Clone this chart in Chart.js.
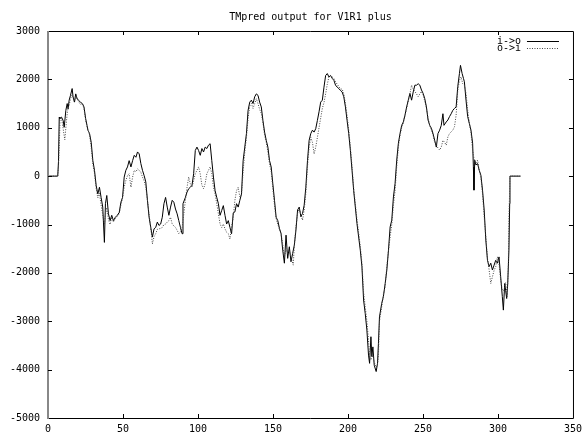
<!DOCTYPE html>
<html>
<head>
<meta charset="utf-8">
<script src="https://cdn.jsdelivr.net/npm/chart.js@4"></script>
<style>
  body { margin: 0; background: #fff; }
  #wrap { width: 587px; height: 435px; }
</style>
</head>
<body>
<div id="wrap"><canvas id="tmChart"></canvas></div>
<script>
// TMpred profile (position, score)
const chartTitle = 'TMpred output for V1R1 plus';
const seriesNames = ['i->o', 'o->i'];
const xTicks = [0, 50, 100, 150, 200, 250, 300, 350];
const yTicks = [-5000, -4000, -3000, -2000, -1000, 0, 1000, 2000, 3000];

const ioPositions = [0, 6.5, 7, 7.5, 7.9, 9, 10.1, 10.8, 11.9, 12.8, 13.4, 14.1, 15, 16.1, 16.7, 17.6, 18.5, 19.4, 20.3, 21.6, 22.9, 24, 25.1, 26, 26.6, 27.7, 28.8, 29.9, 31, 32.1, 33.2, 34.3, 35.4, 36.5, 37.6, 38.3, 39.2, 40.3, 41.4, 42.5, 43.6, 44.9, 46.2, 47.5, 48.6, 49.7, 50.8, 51.9, 53, 54.1, 55.3, 56.4, 57.5, 58.6, 59.7, 60.8, 61.9, 63, 64.1, 65.2, 66.3, 67.4, 68.5, 69.6, 70.7, 71.8, 72.9, 74, 75.1, 76.2, 77.3, 78.4, 79.5, 80.6, 81.7, 82.8, 83.9, 85, 86.1, 87.2, 88.3, 89.4, 90, 91.6, 92.7, 93.8, 94.9, 96, 97.1, 98.2, 99.3, 100.4, 101.5, 102.6, 103.7, 104.8, 105.9, 107, 108.1, 109.2, 110.3, 111.4, 112.5, 113.6, 114.7, 115.8, 116.9, 118, 119.1, 120.2, 121.3, 122.4, 123.5, 124.6, 125.7, 126.8, 127.9, 129, 130.1, 131.2, 132.3, 133.4, 134.5, 135.6, 136.7, 137.8, 138.9, 140, 141.1, 142.2, 143.3, 144.4, 145.5, 146.6, 147.7, 148.8, 149.9, 151, 152.1, 153.2, 154.3, 155.4, 156.5, 157.6, 158.7, 159.8, 160.9, 162, 163.1, 164.2, 165.3, 166.4, 167.5, 168.6, 169.7, 170.8, 171.9, 173, 174.1, 175.2, 176.3, 177.4, 178.5, 179.6, 180.7, 181.8, 182.9, 184, 185.1, 186.2, 187.3, 188.4, 189.5, 190.6, 191.7, 192.8, 193.9, 195, 196.1, 197.2, 198.3, 199.4, 200.5, 201.6, 202.7, 203.8, 206, 208.2, 209.3, 210.4, 211.5, 212.6, 213.7, 214.4, 215.3, 215.9, 216.6, 217.5, 218.8, 219.7, 220.3, 221, 222.5, 223.6, 224.8, 225.9, 227, 228.1, 229.2, 230.3, 231.4, 232.5, 233.6, 234.7, 235.8, 236.9, 238, 239.1, 240.2, 241.3, 242.4, 243.5, 244.6, 245.7, 246.8, 247.9, 249, 250.1, 251.2, 252.3, 253.4, 254.5, 255.6, 256.7, 257.8, 258.9, 260, 261.1, 262.2, 263.3, 264, 265.5, 266.6, 267.7, 268.8, 269.9, 271, 272.1, 273.2, 274.3, 275, 276.1, 277, 277.6, 278.7, 279.8, 280.9, 282, 283.1, 283.6, 284, 284.5, 285.3, 286.4, 287.5, 288.6, 289.7, 290.8, 291.9, 293, 294.1, 295.2, 296.3, 297.4, 298.5, 299.6, 300.7, 301.8, 302.9, 303.6, 304.5, 305.1, 305.8, 306.5, 307.3, 307.8, 308, 315];
const ioValues = [0, 0, 300, 1220, 1190, 1220, 1150, 1010, 1360, 1500, 1390, 1570, 1670, 1810, 1640, 1530, 1700, 1600, 1570, 1530, 1500, 1430, 1190, 1050, 950, 880, 700, 320, 120, -190, -370, -230, -440, -640, -1370, -570, -400, -780, -920, -810, -920, -850, -810, -750, -540, -440, -20, 120, 190, 320, 190, 320, 430, 390, 500, 460, 260, 120, 10, -120, -500, -850, -1060, -1260, -1090, -1060, -950, -1020, -990, -850, -570, -440, -640, -810, -640, -500, -540, -680, -780, -920, -1060, -1190, -570, -440, -330, -260, -230, -190, 50, 530, 600, 530, 430, 570, 500, 600, 570, 640, 670, 320, -20, -300, -440, -570, -810, -710, -610, -810, -990, -920, -1060, -1190, -760, -740, -570, -640, -500, -370, 320, 600, 880, 1360, 1530, 1570, 1500, 1640, 1700, 1670, 1530, 1430, 1150, 910, 740, 600, 320, 190, -160, -500, -850, -920, -1080, -1190, -1530, -1800, -1220, -1700, -1460, -1770, -1600, -1430, -1120, -700, -640, -840, -770, -600, -230, 320, 740, 880, 950, 910, 980, 1150, 1330, 1530, 1570, 1840, 2080, 2120, 2050, 2080, 2020, 1980, 1880, 1840, 1810, 1770, 1740, 1640, 1430, 1150, 880, 530, 120, -300, -980, -1530, -1870, -2560, -2840, -3180, -3700, -3870, -3320, -3730, -3530, -3910, -4040, -3870, -3460, -2910, -2630, -2490, -2220, -1940, -1530, -1050, -910, -430, -150, 330, 680, 880, 1050, 1120, 1260, 1430, 1570, 1710, 1570, 1740, 1880, 1880, 1910, 1880, 1780, 1710, 1600, 1430, 1160, 1050, 990, 880, 740, 600, 880, 950, 1050, 1290, 1050, 1120, 1160, 1230, 1290, 1360, 1400, 1430, 1850, 2120, 2290, 2120, 2020, 1950, 1570, 1230, 1090, 950, 680, 190, -290, 330, 230, 260, 120, 20, -290, -700, -1320, -1740, -1870, -1800, -1940, -1840, -1740, -1800, -1670, -2080, -2490, -2770, -2220, -2360, -2530, -2220, -1530, -570, 0, 0];

const oiPositions = [0, 6.5, 7, 7.6, 8, 9, 10, 11.2, 12.2, 13, 14, 15, 16.1, 17, 18, 19, 20.3, 21.6, 22.9, 24, 25.1, 26.3, 27.7, 28.8, 29.9, 31, 32.1, 33.2, 34.3, 35.4, 36.5, 37.6, 38.3, 39.2, 40.3, 41.4, 42.5, 43.6, 44.9, 46.2, 47.5, 48.6, 49.7, 50.8, 51.9, 53, 54.1, 55.3, 56.4, 57.5, 58.6, 59.7, 60.8, 61.9, 63, 64.1, 65.2, 66.3, 67.4, 68.5, 69.6, 70.7, 71.8, 72.9, 74, 75.1, 76.2, 77.3, 78.4, 79.5, 80.6, 81.7, 82.8, 83.9, 85, 86.1, 87.2, 88.3, 89.4, 90.5, 91.6, 92.7, 93.8, 94.9, 96, 97.1, 98.2, 99.3, 100.4, 101.5, 102.6, 103.7, 104.8, 105.9, 107, 108.1, 109.2, 110.3, 111.4, 112.5, 113.6, 114.7, 115.8, 116.9, 118, 119.1, 120.2, 121.3, 122.4, 123.5, 124.6, 125.7, 126.8, 127.9, 129, 130.1, 131.2, 132.3, 133.4, 134.5, 135.6, 136.7, 137.8, 138.9, 140, 141.1, 142.2, 143.3, 144.4, 145.5, 146.6, 147.7, 148.8, 149.9, 151, 152.1, 153.2, 154.3, 155.4, 156.5, 157.6, 158.7, 159.8, 160.9, 162, 163.5, 164.2, 165.3, 166.4, 167.5, 168.6, 169.7, 170.8, 171.9, 173, 174.1, 175.2, 176.3, 177.4, 178.5, 179.6, 180.7, 181.8, 182.9, 184, 185.1, 186.2, 187.3, 188.4, 189.5, 190.6, 191.7, 192.8, 193.9, 195, 196.1, 197.2, 198.3, 199.4, 200.5, 201.6, 202.7, 203.8, 206, 208.2, 209.3, 210.4, 211.5, 212.6, 213.7, 214.4, 215.3, 216.6, 217.5, 218.8, 219.7, 220.3, 221, 222.5, 223.6, 224.7, 225.8, 227, 228.1, 229.2, 230.3, 231.4, 232.5, 233.6, 234.7, 235.8, 236.9, 238, 239.1, 240.2, 241.3, 242.4, 243.5, 244.6, 245.7, 246.8, 247.9, 249, 250.1, 251.2, 252.3, 253.4, 254.5, 255.6, 256.7, 257.8, 258.9, 260, 261.1, 262.2, 263.3, 264.4, 265.5, 266.6, 267.7, 269.9, 271, 272.1, 273.2, 274.3, 275.4, 276.5, 277.6, 278.7, 279.8, 280.9, 282, 283.1, 284.2, 285.3, 286.4, 287.5, 288.6, 289.7, 290.8, 291.9, 293, 294.1, 295.2, 296.3, 297.4, 298.5, 299.6, 300.7, 301.8, 302.9, 304, 305.1, 306.2, 306.9, 307.3, 307.8, 308, 315];
const oiValues = [0, 0, 200, 700, 1150, 1200, 1000, 750, 1100, 1350, 1450, 1600, 1680, 1600, 1550, 1650, 1550, 1480, 1500, 1400, 1150, 1000, 850, 600, 250, 50, -250, -450, -350, -600, -800, -1000, -800, -650, -900, -1000, -850, -950, -880, -830, -780, -600, -450, -230, -90, 10, 50, -230, -20, 120, 90, 150, 120, 80, -20, -100, -230, -500, -800, -1060, -1400, -1250, -1190, -1100, -1090, -1080, -1060, -1000, -990, -950, -920, -850, -990, -1030, -1060, -1120, -1190, -1150, -1060, -800, -500, -230, -20, -160, -230, -90, 50, 120, 190, 50, -190, -260, -150, 50, 120, 190, 50, -230, -370, -570, -780, -990, -1060, -990, -1090, -1160, -1190, -1300, -1050, -850, -500, -300, -230, -430, -380, 100, 500, 800, 1200, 1450, 1500, 1400, 1500, 1600, 1500, 1380, 1300, 1100, 850, 700, 500, 250, 100, -250, -600, -875, -1000, -1100, -1185, -1420, -1670, -1500, -1600, -1550, -1670, -1840, -1460, -1050, -770, -670, -800, -910, -700, -350, 200, 600, 800, 700, 460, 600, 800, 1000, 1200, 1400, 1520, 1700, 1900, 2050, 2080, 2050, 2020, 1950, 1900, 1850, 1800, 1800, 1700, 1500, 1250, 950, 600, 200, -250, -900, -1450, -1800, -2400, -2700, -3000, -3400, -3750, -3800, -3700, -3850, -3950, -3900, -3700, -3000, -2700, -2450, -2300, -1900, -1550, -1250, -1000, -600, -300, 200, 600, 850, 1000, 1100, 1250, 1400, 1550, 1700, 1880, 1800, 1750, 1700, 1640, 1700, 1750, 1680, 1550, 1400, 1200, 1050, 950, 850, 700, 650, 580, 540, 600, 740, 700, 640, 810, 880, 950, 1020, 1260, 1780, 1980, 2050, 1910, 1880, 1710, 1360, 1100, 900, 540, 330, 260, 330, 120, -10, -360, -840, -1250, -1700, -1940, -2220, -2080, -1950, -1870, -1670, -1800, -2150, -2360, -2360, -2200, -2490, -1870, -840, -290, 0, 0];

const FONT = "'DejaVu Sans Mono', 'Liberation Mono', monospace";

function toPoints(xs, ys) {
  return xs.map((x, i) => ({ x: x, y: ys[i] }));
}

// gnuplot look: frame, inward ticks, title and key drawn over the chart area
const gnuplotFrame = {
  id: 'gnuplotFrame',
  afterDraw(chart) {
    const ctx = chart.ctx;
    const a = chart.chartArea;
    const xs = chart.scales.x, ys = chart.scales.y;
    const tick = 4;
    ctx.save();

    // frame
    ctx.lineWidth = 1;
    ctx.strokeStyle = '#000';
    ctx.beginPath();
    ctx.moveTo(a.left, a.top + 0.5);
    ctx.lineTo(a.right + 0.5, a.top + 0.5);
    ctx.lineTo(a.right + 0.5, a.bottom + 0.5);
    ctx.lineTo(a.left, a.bottom + 0.5);
    ctx.stroke();
    ctx.strokeStyle = '#888';
    ctx.lineWidth = 2;
    ctx.beginPath();
    ctx.moveTo(a.left, a.top);
    ctx.lineTo(a.left, a.bottom + 1);
    ctx.stroke();

    // inward tick marks
    ctx.lineWidth = 1;
    ctx.strokeStyle = '#000';
    ctx.beginPath();
    xTicks.slice(1, -1).forEach(v => {
      const px = Math.round(xs.getPixelForValue(v)) + 0.5;
      ctx.moveTo(px, a.bottom);
      ctx.lineTo(px, a.bottom - tick);
      ctx.moveTo(px, a.top);
      ctx.lineTo(px, a.top + tick);
    });
    yTicks.slice(1, -1).forEach(v => {
      const py = Math.round(ys.getPixelForValue(v)) + 0.5;
      ctx.moveTo(a.left, py);
      ctx.lineTo(a.left + tick, py);
      ctx.moveTo(a.right, py);
      ctx.lineTo(a.right - tick, py);
    });
    ctx.stroke();

    // title
    ctx.fillStyle = '#000';
    ctx.font = '10px ' + FONT;
    ctx.textAlign = 'center';
    ctx.textBaseline = 'middle';
    ctx.fillText(chartTitle, (a.left + a.right) / 2, 17);

    // key
    ctx.textAlign = 'left';
    const keyX = a.right - 76;
    const rows = [41, 48];
    chart.data.datasets.forEach((ds, i) => {
      const y = rows[i];
      ctx.fillText(ds.label, keyX, y);
      ctx.strokeStyle = ds.borderColor;
      ctx.setLineDash(ds.borderDash || []);
      ctx.beginPath();
      ctx.moveTo(keyX + 30, y + 0.5);
      ctx.lineTo(keyX + 62, y + 0.5);
      ctx.stroke();
    });
    ctx.restore();
  }
};

new Chart(document.getElementById('tmChart'), {
  type: 'line',
  data: {
    datasets: [
      {
        label: seriesNames[0],
        data: toPoints(ioPositions, ioValues),
        borderColor: '#000',
        borderWidth: 1,
        pointRadius: 0,
        tension: 0,
        order: 2
      },
      {
        label: seriesNames[1],
        data: toPoints(oiPositions, oiValues),
        borderColor: '#444',
        borderWidth: 1,
        borderDash: [1, 1.5],
        pointRadius: 0,
        tension: 0,
        order: 1
      }
    ]
  },
  options: {
    responsive: true,
    maintainAspectRatio: false,
    animation: false,
    layout: { padding: { top: 31, right: 9, left: 0, bottom: 0 }, autoPadding: false },
    plugins: {
      legend: { display: false },
      title: { display: false },
      tooltip: { enabled: false }
    },
    scales: {
      x: {
        type: 'linear',
        min: xTicks[0],
        max: xTicks[xTicks.length - 1],
        afterBuildTicks: s => { s.ticks = xTicks.map(v => ({ value: v })); },
        afterFit: s => { s.height = 17; },
        grid: { display: false, drawTicks: false },
        border: { display: false },
        ticks: {
          color: '#000', padding: 5, maxRotation: 0, autoSkip: false,
          font: { family: FONT, size: 10 },
          callback: v => String(v)
        }
      },
      y: {
        min: yTicks[0],
        max: yTicks[yTicks.length - 1],
        afterBuildTicks: s => { s.ticks = yTicks.map(v => ({ value: v })); },
        afterFit: s => { s.width = 48; },
        grid: { display: false, drawTicks: false },
        border: { display: false },
        ticks: {
          color: '#000', padding: 8, autoSkip: false,
          font: { family: FONT, size: 10 },
          callback: v => String(v)
        }
      }
    }
  },
  plugins: [gnuplotFrame]
});
</script>
</body>
</html>
